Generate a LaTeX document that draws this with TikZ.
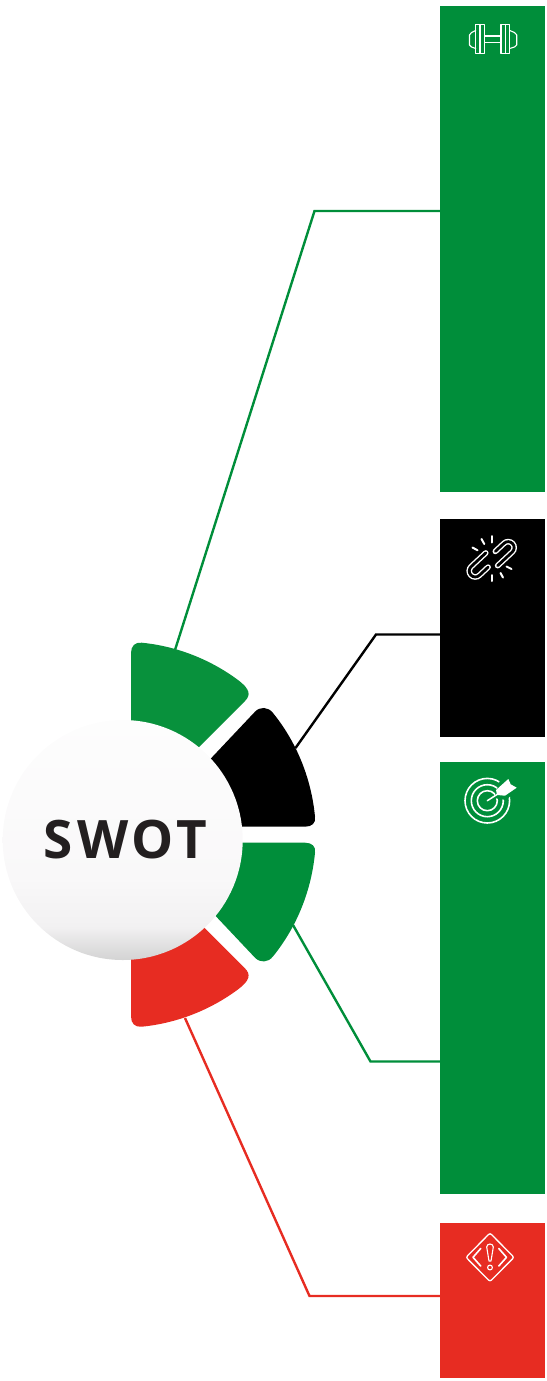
\documentclass[tikz,border=0pt]{standalone}
\usepackage{fontspec}
\newfontfamily\swotfont[LetterSpace=7.5]{Open Sans}
\definecolor{barG}{HTML}{008E3A}
\definecolor{segG}{HTML}{08913C}
\definecolor{barR}{HTML}{E72C22}
\definecolor{inkK}{HTML}{231F20}
\definecolor{ballA}{HTML}{FDFDFD}
\definecolor{ballB}{HTML}{F9F8F9}
\definecolor{ballC}{HTML}{F2F1F2}
\definecolor{ballD}{HTML}{D3D3D3}
\pgfdeclareverticalshading{ballshade}{100bp}{color(0bp)=(ballD); color(25bp)=(ballD); color(32bp)=(ballC); color(42bp)=(ballB); color(75bp)=(ballA); color(100bp)=(ballA)}
\tikzset{
  barbox/.style={rectangle,inner sep=0pt,outer sep=0pt,minimum width=105pt},
  link/.style={line width=2.4pt,line join=miter},
  ico/.style={draw=white,line width=1.3pt,line join=round,line cap=round},
  chain/.style={draw=white,line width=1.4pt,double=black,double distance=2.8pt,line cap=round},
}
\begin{document}
\begin{tikzpicture}[x=1pt,y=-1pt]
\useasboundingbox (0,0) rectangle (546,1381);
% bars
\node[barbox,fill=barG,minimum height=486pt] (bar1) at (492.5,249) {};
\node[barbox,fill=black,minimum height=218pt] (bar2) at (492.5,628) {};
\node[barbox,fill=barG,minimum height=432pt] (bar3) at (492.5,978) {};
\node[barbox,fill=barR,minimum height=155pt] (bar4) at (492.5,1300.5) {};
% connector anchors
\coordinate (seg1) at (175,650);
\coordinate (elbow1) at (314.5,211);
\coordinate (seg2) at (295.5,748);
\coordinate (elbow2) at (376,634.5);
\coordinate (seg3) at (293,925);
\coordinate (elbow3) at (370.5,1061.5);
\coordinate (seg4) at (185,1018);
\coordinate (elbow4) at (309.5,1296);
\draw[link,draw=barG] (seg1) -- (elbow1) -- (elbow1 -| bar1.west);
\draw[link,draw=black] (seg2) -- (elbow2) -- (elbow2 -| bar2.west);
\draw[link,draw=barG] (seg3) -- (elbow3) -- (elbow3 -| bar3.west);
\draw[link,draw=barR] (seg4) -- (elbow4) -- (elbow4 -| bar4.west);
% segments
\fill[segG] (131,766) -- (131,653) .. controls (131,646) and (135,642) .. (141.7,642.7)
  .. controls (176.4,646.1) and (210,659.2) .. (238,680)
  .. controls (250,689) and (251,695) .. (245,701) -- (180,766) -- cycle;
\fill[black] (200,770) -- (255,711.7) .. controls (260,706.5) and (268,706.5) .. (273,713)
  .. controls (296.9,742.5) and (311.4,778.9) .. (315,816.7)
  .. controls (316,823) and (312,826.7) .. (305,826.7) -- (200,826.7) -- cycle;
\fill[barG] (200,842.7) -- (305,842.7) .. controls (312,842.7) and (316,846.4) .. (315,852.7)
  .. controls (311.4,890.5) and (296.9,926.9) .. (273,956.4)
  .. controls (268,962.9) and (260,962.9) .. (255,957.7) -- (200,899.4) -- cycle;
\fill[barR] (131,903.4) -- (131,1016.4) .. controls (131,1023.4) and (135,1027.4) .. (141.7,1026.7)
  .. controls (176.4,1023.3) and (210,1010.2) .. (238,989.4)
  .. controls (250,980.4) and (251,974.4) .. (245,968.4) -- (180,903.4) -- cycle;
% central ball
\node[circle,shading=ballshade,minimum size=240pt,inner sep=0pt,outer sep=0pt,text=inkK,font=\swotfont\bfseries\fontsize{53}{53}\selectfont] (swot) at (122.7,840) {\hspace*{5.6pt}SWOT};
% dumbbell icon
\draw[ico,line width=1.1pt] (475.7,24.5) rectangle (484.3,53.5) (480,24.5) -- (480,53.5);
\draw[ico,line width=1.1pt] (501,24.5) rectangle (509.7,53.5) (505.3,24.5) -- (505.3,53.5);
\draw[ico,line width=1.1pt] (484.3,36) rectangle (501,42.7);
\draw[ico,line width=1.1pt] (475.7,30.5) -- (471.5,32.5) -- (469.5,35) -- (469.5,45) -- (471.5,47) -- (475.7,48.5);
\draw[ico,line width=1.1pt] (509.7,30.5) -- (514.5,32.5) -- (516.7,35) -- (516.7,45) -- (514.5,47) -- (509.7,48.5);
% broken chain icon
\begin{scope}[shift={(491.7,559.3)},rotate=43,y=1pt]
\draw[chain] (8,3.3) -- (20,3.3) arc[start angle=90,end angle=-90,radius=6] -- (0,-8.7);
\draw[chain] (-8,-3.3) -- (-20,-3.3) arc[start angle=-90,end angle=-270,radius=6] -- (0,8.7);
\end{scope}
\draw[ico,line width=2pt] (492,536) -- (492,542.5);
\draw[ico,line width=2pt] (481.5,539) -- (484.3,544);
\draw[ico,line width=2pt] (472.5,547.5) -- (477.5,550.3);
\draw[ico,line width=2pt] (491.5,575) -- (491.5,581);
\draw[ico,line width=2pt] (500.5,573) -- (503,577.5);
\draw[ico,line width=2pt] (506.5,566.5) -- (511.5,569);
% target icon
\draw[ico,line width=1.6pt] (487.3,800.7) circle[radius=22.3];
\draw[ico,line width=1.6pt] (487.3,800.7) circle[radius=16];
\draw[ico,line width=1.6pt] (487.3,800.7) circle[radius=10];
\fill[barG] (494,798) -- (502,774) -- (522,786) -- (506,800) -- cycle;
\draw[ico,line width=1.5pt] (487.3,800.7) -- (497,794.5);
\fill[white] (496,790) -- (508.3,779) -- (510.7,784.3) -- (516.7,787.7) -- (505,795.7) -- (497,795) -- cycle;
% warning icon
\draw[ico,rounded corners=2pt] (490,1233) -- (514,1257.3) -- (490,1281.5) -- (466,1257.3) -- cycle;
\draw[ico,line width=1.6pt] (480.7,1248.5) -- (473,1257.3) -- (480.7,1266);
\draw[ico,line width=1.6pt] (498.8,1248.5) -- (506.5,1257.3) -- (498.8,1266);
\draw[ico,line width=1.1pt] (486.7,1247) .. controls (486.7,1243) and (493.3,1243) .. (493.3,1247) -- (491,1261) -- (489,1261) -- cycle;
\draw[ico,line width=1.1pt] (490,1267.5) circle[radius=2.4];
\end{tikzpicture}
\end{document}
